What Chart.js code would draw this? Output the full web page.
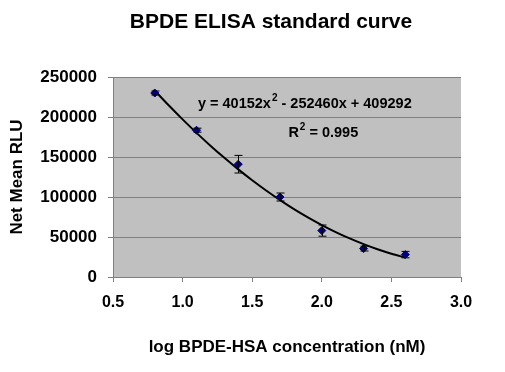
<!DOCTYPE html>
<html>

<head>
	<title>BPDE ELISA standard curve</title>
	<meta charset="UTF-8">
	<script src="https://cdn.jsdelivr.net/npm/chart.js@4.4.0/dist/chart.umd.min.js"></script>
	<style>
		body { margin: 0; background: #fff; }
	</style>
</head>

<body>
	<div style="width:505px;height:372px">
		<canvas id="elisaChart" width="505" height="372"></canvas>
	</div>

	<script>
		// log concentration and mean signal
		var logConc = [0.8, 1.1, 1.4, 1.7, 2.0, 2.3, 2.6];
		var meanRLU = [230000, 183500, 141000, 100000, 58000, 35500, 28000];
		var errRLU = [2500, 2500, 11000, 5000, 7000, 3000, 4000];

		// polynomial trendline as shown on the chart
		var trendX = [0.8, 0.9, 1.0, 1.1, 1.2, 1.3, 1.4, 1.5, 1.6, 1.7, 1.8, 1.9, 2.0, 2.1, 2.2, 2.3, 2.4, 2.5, 2.6];
		var trendY = [233021, 214601, 196984, 180170, 164159, 148951, 134546, 120944, 108145, 96149, 84956, 74567,
			64980, 56196, 48216, 41038, 34664, 29092, 24324];

		var xTicks = [0.5, 1.0, 1.5, 2.0, 2.5, 3.0];
		var yTicks = [0, 50000, 100000, 150000, 200000, 250000];

		var titleText = "BPDE ELISA standard curve";
		var eqText = "y = 40152x";
		var eqRest = " - 252460x + 409292";
		var r2Text = " = 0.995";

		var points = logConc.map(function (x, i) { return { x: x, y: meanRLU[i] }; });
		var trend = trendX.map(function (x, i) { return { x: x, y: trendY[i] }; });

		var plotBg = {
			id: 'plotBg',
			beforeDraw: function (chart) {
				var a = chart.chartArea, ctx = chart.ctx;
				ctx.save();
				ctx.fillStyle = '#c0c0c0';
				ctx.fillRect(a.left, a.top, a.right - a.left, a.bottom - a.top);
				ctx.restore();
			}
		};

		// title is centred a bit right of the canvas middle in the original
		var chartTitle = {
			id: 'chartTitle',
			afterDraw: function (chart) {
				var ctx = chart.ctx;
				ctx.save();
				ctx.fillStyle = '#000';
				ctx.font = 'bold 21px "Liberation Sans", Arial, sans-serif';
				ctx.textAlign = 'center';
				ctx.textBaseline = 'middle';
				ctx.fillText(titleText, 271, 22);
				ctx.restore();
			}
		};

		var errorBars = {
			id: 'errorBars',
			afterDatasetsDraw: function (chart) {
				var ctx = chart.ctx, xs = chart.scales.x, ys = chart.scales.y;
				ctx.save();
				ctx.strokeStyle = '#000';
				ctx.lineWidth = 1;
				for (var i = 0; i < logConc.length; i++) {
					var px = Math.round(xs.getPixelForValue(logConc[i])) + 0.5;
					var top = ys.getPixelForValue(meanRLU[i] + errRLU[i]);
					var bot = ys.getPixelForValue(meanRLU[i] - errRLU[i]);
					ctx.beginPath();
					ctx.moveTo(px, top); ctx.lineTo(px, bot);
					ctx.moveTo(px - 4, top); ctx.lineTo(px + 4, top);
					ctx.moveTo(px - 4, bot); ctx.lineTo(px + 4, bot);
					ctx.stroke();
				}
				ctx.restore();
			}
		};

		var equation = {
			id: 'equation',
			afterDraw: function (chart) {
				var ctx = chart.ctx, xs = chart.scales.x, ys = chart.scales.y;
				ctx.save();
				ctx.fillStyle = '#000';
				ctx.textBaseline = 'alphabetic';
				var big = 'bold 14.5px "Liberation Sans", Arial, sans-serif';
				var small = 'bold 10px "Liberation Sans", Arial, sans-serif';

				var x = xs.getPixelForValue(1.11), y = ys.getPixelForValue(211250);
				ctx.font = big; ctx.fillText(eqText, x, y); x += ctx.measureText(eqText).width;
				ctx.font = small; ctx.fillText('2', x + 1, y - 7); x += ctx.measureText('2').width + 1;
				ctx.font = big; ctx.fillText(eqRest, x, y);

				x = xs.getPixelForValue(1.76); y = ys.getPixelForValue(175000);
				ctx.font = big; ctx.fillText('R', x, y); x += ctx.measureText('R').width;
				ctx.font = small; ctx.fillText('2', x + 1, y - 7); x += ctx.measureText('2').width + 1;
				ctx.font = big; ctx.fillText(r2Text, x, y);
				ctx.restore();
			}
		};

		Chart.defaults.font.family = '"Liberation Sans", Arial, sans-serif';
		Chart.defaults.color = '#000';

		new Chart(document.getElementById('elisaChart'), {
			type: 'scatter',
			data: {
				datasets: [
					{
						label: 'trend', data: trend, showLine: true, borderColor: '#000', borderWidth: 2,
						pointRadius: 0, fill: false, tension: 0.3, order: 2
					},
					{
						label: 'Net Mean RLU', data: points, pointStyle: 'rectRot', pointRadius: 4,
						backgroundColor: '#000080', borderColor: '#000080', borderWidth: 1, order: 1
					}
				]
			},
			options: {
				responsive: false,
				animation: false,
				layout: { padding: { left: 0, right: 44, top: 77, bottom: 0 } },
				plugins: {
					legend: { display: false },
					tooltip: { enabled: false },
					title: { display: false }
				},
				scales: {
					x: {
						type: 'linear', min: 0.5, max: 3.0,
						afterFit: function (s) { s.height = 95; },
						afterBuildTicks: function (s) { s.ticks = xTicks.map(function (v) { return { value: v }; }); },
						ticks: {
							font: { size: 16, weight: 'bold' }, padding: 11, maxRotation: 0,
							callback: function (v) { return v.toFixed(1); }
						},
						grid: { display: true, drawOnChartArea: false, color: '#808080', tickLength: 5 },
						border: { color: '#808080' },
						title: {
							display: true, text: 'log BPDE-HSA concentration (nM)',
							font: { size: 17, weight: 'bold' }, padding: { top: 4, bottom: 14 }
						}
					},
					y: {
						type: 'linear', min: 0, max: 250000,
						afterFit: function (s) { s.width = 113; },
						afterBuildTicks: function (s) { s.ticks = yTicks.map(function (v) { return { value: v }; }); },
						ticks: {
							font: { size: 17, weight: 'bold' }, padding: 11,
							callback: function (v) { return String(v); }
						},
						grid: { color: '#808080', tickLength: 5 },
						border: { color: '#808080' },
						title: {
							display: true, text: 'Net Mean RLU',
							font: { size: 17, weight: 'bold' }, padding: { top: 7, bottom: 4 }
						}
					}
				}
			},
			plugins: [plotBg, chartTitle, errorBars, equation]
		});
	</script>

</body>

</html>
